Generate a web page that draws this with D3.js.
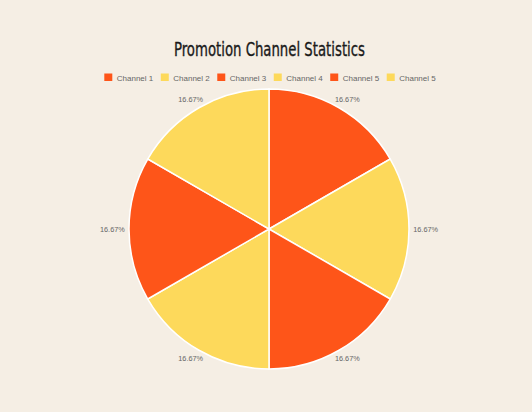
<!DOCTYPE html>
<html>
<head>
  <meta charset="utf-8">
  <title>Promotion Channel Statistics</title>
  <script src="https://d3js.org/d3.v7.min.js"></script>
  <style>
    body {
      margin: 0;
      background-color: #f5eee4;
    }
    svg { display: block; }
    .title {
      font-family: "Liberation Sans Narrow", "DejaVu Sans Condensed", sans-serif;
      font-size: 20px;
      fill: #1a1a1a;
      stroke: #1a1a1a;
      stroke-width: 0.35px;
    }
    .legend text {
      font-family: "Liberation Sans", Arial, sans-serif;
      font-size: 8px;
      fill: #666;
    }
    .slice-label {
      font-family: "Liberation Sans", Arial, sans-serif;
      font-size: 7.3px;
      fill: #666;
    }
  </style>
</head>
<body>
  <div id="chart"></div>

  <script>
    // chart data
    const channels = ['Channel 1', 'Channel 2', 'Channel 3', 'Channel 4', 'Channel 5', 'Channel 5'];
    const shares = [16.67, 16.67, 16.67, 16.67, 16.67, 16.67];
    const sliceColors = ['#fe5519', '#fdd95b', '#fe5519', '#fdd95b', '#fe5519', '#fdd95b'];

    const width = 532, height = 412;
    const cx = 269, cy = 229, radius = 140;

    const svg = d3.select('#chart')
      .append('svg')
      .attr('width', width)
      .attr('height', height);

    svg.append('rect')
      .attr('width', width)
      .attr('height', height)
      .attr('fill', '#f5eee4');

    // title
    svg.append('text')
      .attr('class', 'title')
      .attr('x', 269.5)
      .attr('y', 56)
      .attr('text-anchor', 'middle')
      .attr('textLength', 191)
      .attr('lengthAdjust', 'spacingAndGlyphs')
      .text('Promotion Channel Statistics');

    // legend, laid out from measured text widths and centred
    const legend = svg.append('g').attr('class', 'legend');
    const items = legend.selectAll('g')
      .data(channels)
      .enter()
      .append('g');

    items.append('rect')
      .attr('width', 8)
      .attr('height', 7.5)
      .attr('y', 73.5)
      .attr('fill', (d, i) => sliceColors[i]);

    items.append('text')
      .attr('x', 12.5)
      .attr('y', 80.5)
      .text(d => d);

    const gap = 7.5;
    const itemWidths = [];
    items.each(function () {
      itemWidths.push(12.5 + d3.select(this).select('text').node().getComputedTextLength());
    });
    const total = d3.sum(itemWidths) + gap * (itemWidths.length - 1);
    let xPos = 270 - total / 2;
    items.attr('transform', (d, i) => {
      const t = `translate(${xPos},0)`;
      xPos += itemWidths[i] + gap;
      return t;
    });

    // pie
    const pie = d3.pie().sort(null).value(d => d);
    const arcs = pie(shares);
    const arc = d3.arc().innerRadius(0).outerRadius(radius);

    const g = svg.append('g')
      .attr('transform', `translate(${cx},${cy})`);

    g.selectAll('path')
      .data(arcs)
      .enter()
      .append('path')
      .attr('d', arc)
      .attr('fill', (d, i) => sliceColors[i])
      .attr('stroke', '#ffffff')
      .attr('stroke-width', 1.5);

    // outside labels: pushed out along the mid angle
    const offset = 4;
    const labels = g.selectAll('.slice-label')
      .data(arcs)
      .enter()
      .append('text')
      .attr('class', 'slice-label')
      .attr('text-anchor', 'middle')
      .attr('dy', '0.35em')
      .text(d => d.data.toFixed(2) + '%');

    labels.each(function (d) {
      const a = (d.startAngle + d.endAngle) / 2;
      const vx = Math.sin(a), vy = -Math.cos(a);
      const bb = this.getBBox();
      const x = vx * (radius + offset) + vx * bb.width / 2;
      const y = vy * (radius + offset) + vy * (bb.height / 2 + 1);
      d3.select(this).attr('x', x).attr('y', y);
    });
  </script>
</body>
</html>
